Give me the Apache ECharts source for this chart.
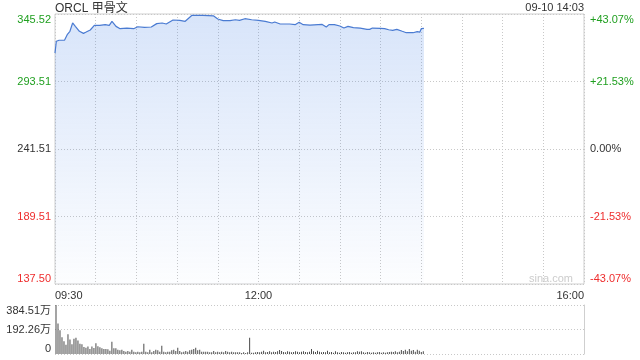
<!DOCTYPE html>
<html><head><meta charset="utf-8">
<script src="https://cdn.jsdelivr.net/npm/echarts@6/dist/echarts.min.js"></script>
<style>html,body{margin:0;padding:0;background:#fff}#c{width:640px;height:360px}</style>
</head><body><div id="c"></div>
<script>
const titleText = 'ORCL 甲骨文';
const stampText = '09-10 14:03';
const watermark = 'sina.com';
const priceTicks = ['137.50','189.51','241.51','293.51','345.52'];
const pctTicks = ['-43.07%','-21.53%','0.00%','+21.53%','+43.07%'];
const volTicks = ['0','192.26万','384.51万'];
const timeTicks = ['09:30','12:00','16:00'];

const priceTimes = ['09:30','09:31','09:33','09:37','09:39','09:41','09:43','09:45','09:48','09:51','09:53','09:56','09:59','10:03','10:07','10:10','10:12','10:15','10:18','10:23','10:28','10:31','10:36','10:41','10:45','10:49','10:52','10:57','11:02','11:06','11:11','11:19','11:27','11:30','11:34','11:39','11:43','11:46','11:50','11:55','12:00','12:05','12:10','12:12','12:16','12:23','12:27','12:30','12:33','12:38','12:47','12:50','12:52','12:56','13:00','13:03','13:06','13:10','13:15','13:20','13:22','13:24','13:30','13:33','13:36','13:39','13:42','13:46','13:49','13:54','13:57','13:59','14:00','14:02'];
const prices = [315.5,324.5,325.3,325.3,329.6,332.2,338.6,336.0,332.2,330.6,331.6,333.2,336.8,336.8,337.3,336.8,339.9,336.0,334.2,334.7,334.2,335.7,335.2,335.5,338.1,338.6,337.8,340.9,340.6,339.9,344.5,344.5,344.0,341.7,340.4,340.4,341.1,340.6,341.9,341.1,340.6,339.9,338.6,339.4,337.8,337.8,337.3,339.1,337.3,337.0,337.5,335.5,337.3,337.3,336.3,334.7,336.0,335.0,334.7,333.7,333.7,334.7,334.4,334.2,333.4,332.9,333.7,332.2,331.1,331.1,331.9,331.6,334.2,334.4];

// volume (万), one bar per slot, 265 slots across the session
const volumes = [384,240,186,131,100,73,155,113,76,120,128,106,81,76,55,50,58,39,58,47,84,60,52,45,39,39,37,26,97,45,45,34,29,34,24,18,24,18,34,18,13,18,13,18,81,18,13,34,13,24,34,29,18,65,18,13,18,18,29,34,24,50,24,13,18,24,18,29,34,39,50,29,34,18,18,18,18,13,13,24,13,18,13,18,13,24,18,13,18,13,13,13,13,8,13,8,13,128,10,
10,13,16,13,18,26,13,16,21,13,18,16,21,31,24,16,13,21,18,13,16,21,18,13,18,21,16,13,18,39,21,16,26,18,13,16,13,26,13,16,10,21,13,10,16,13,10,13,16,10,13,13,21,18,21,13,10,16,13,10,13,10,13,16,10,13,10,13,16,18,16,21,13,18,31,24,34,21,39,26,31,18,34,26,16,21];
const volSlots = Array.from({length:265}, (_, i) => i);

const GREEN = '#1f9f1f', RED = '#ee2d2d', GREY = '#333';
const tickColors = [RED, RED, GREY, GREEN, GREEN];
const toMin = s => { const [h, m] = s.split(':').map(Number); return h*60 + m - 570; };
const FONT = 'Arial, "Liberation Sans", "Noto Sans CJK SC", sans-serif';
const PMIN = 137.5, PMAX = 345.52, PINT = (PMAX - PMIN) / 4;
const pIdx = v => Math.round((v - PMIN) / PINT);
const dotted = { type: [1, 2], color: '#c8c8c8', width: 1 };

const chart = echarts.init(document.getElementById('c'), null, { renderer: 'canvas' });
chart.setOption({
  animation: false,
  textStyle: { fontFamily: FONT },
  grid: [
    { left: 55, right: 56, top: 14, height: 270, show: true, borderColor: '#cfcfcf', borderWidth: 1, backgroundColor: 'transparent' },
    { left: 55, right: 56, top: 305, height: 49, show: false }
  ],
  xAxis: [
    { gridIndex: 0, type: 'value', min: 0, max: 390, interval: 30,
      axisLine: { show: false }, axisTick: { show: false },
      splitLine: { show: true, lineStyle: dotted },
      axisLabel: { fontSize: 11, color: GREY, margin: 6, fontFamily: FONT,
        alignMinLabel: 'left', alignMaxLabel: 'right',
        formatter: v => { const i = timeTicks.map(toMin).indexOf(Math.round(v)); return i >= 0 ? timeTicks[i] : ''; } } },
    { gridIndex: 1, type: 'category', data: volSlots, boundaryGap: true,
      axisLine: { show: false }, axisTick: { show: false }, axisLabel: { show: false }, splitLine: { show: false } }
  ],
  yAxis: [
    { gridIndex: 0, type: 'value', min: PMIN, max: PMAX, interval: PINT, position: 'left',
      axisLine: { show: false }, axisTick: { show: false },
      splitLine: { show: true, lineStyle: dotted },
      axisLabel: { fontSize: 11, margin: 4, fontFamily: FONT,
        verticalAlignMinLabel: 'bottom', verticalAlignMaxLabel: 'top',
        formatter: v => priceTicks[pIdx(v)] || '',
        color: v => tickColors[pIdx(v)] || GREY } },
    { gridIndex: 0, type: 'value', min: PMIN, max: PMAX, interval: PINT, position: 'right',
      axisLine: { show: false }, axisTick: { show: false }, splitLine: { show: false },
      axisLabel: { fontSize: 11, margin: 6, fontFamily: FONT,
        verticalAlignMinLabel: 'bottom', verticalAlignMaxLabel: 'top',
        formatter: v => pctTicks[pIdx(v)] || '',
        color: v => tickColors[pIdx(v)] || GREY } },
    { gridIndex: 1, type: 'value', min: 0, max: 384.51, interval: 384.51 / 2, position: 'left',
      axisLine: { show: false }, axisTick: { show: false },
      splitLine: { show: true, lineStyle: dotted },
      axisLabel: { fontSize: 11, margin: 4, color: GREY, fontFamily: FONT,
        verticalAlignMinLabel: 'bottom', verticalAlignMaxLabel: 'top',
        formatter: v => volTicks[Math.round(v / (384.51 / 2))] || '' } },
    { gridIndex: 1, type: 'value', min: 0, max: 384.51, position: 'right',
      axisLine: { show: true, lineStyle: { color: '#cfcfcf', width: 1 } },
      axisTick: { show: false }, axisLabel: { show: false }, splitLine: { show: false } }
  ],
  graphic: [
    { type: 'text', left: 55, top: 3, style: { text: titleText, fill: GREY, font: '12px ' + FONT } },
    { type: 'text', right: 56, top: 2, style: { text: stampText, fill: GREY, font: '11px ' + FONT } },
    { type: 'text', right: 67, top: 273, style: { text: watermark, fill: '#cccccc', font: '11px ' + FONT } }
  ],
  series: [
    { type: 'line', xAxisIndex: 0, yAxisIndex: 0, showSymbol: false, symbol: 'none',
      data: priceTimes.map((t, i) => [toMin(t), prices[i]]),
      lineStyle: { color: '#4a7bd2', width: 1.2 },
      areaStyle: { color: new echarts.graphic.LinearGradient(0, 0, 0, 1, [
        { offset: 0, color: 'rgba(70,130,230,0.3)' },
        { offset: 1, color: 'rgba(70,130,230,0.02)' } ]) } },
    { type: 'bar', xAxisIndex: 1, yAxisIndex: 2, data: volumes, barWidth: 1,
      itemStyle: { color: '#4a4a4a' } }
  ]
});
</script></body></html>
